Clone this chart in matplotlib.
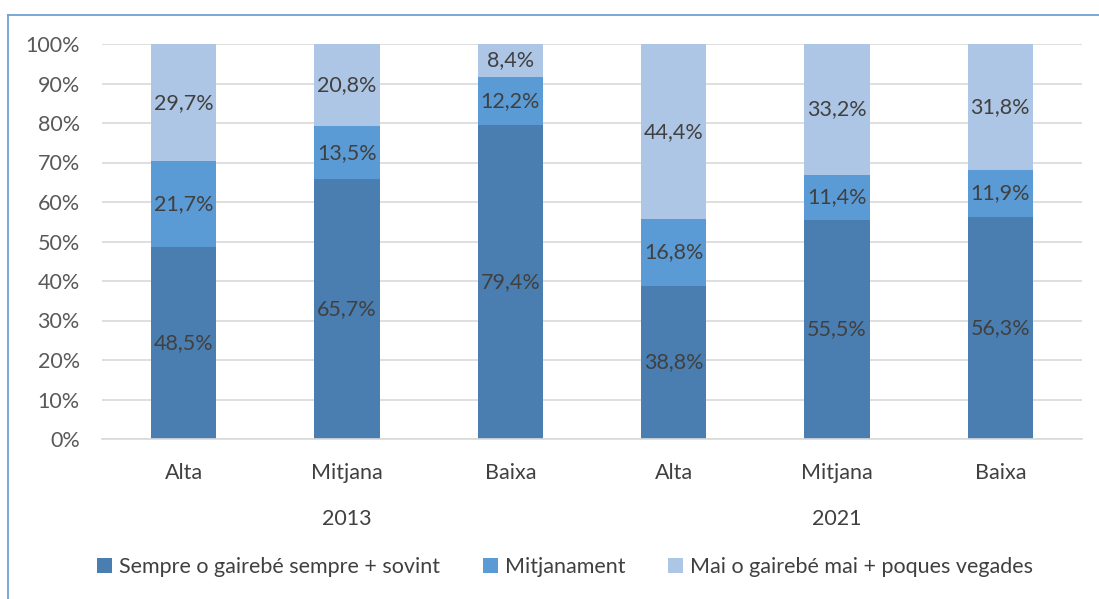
import numpy as np
import matplotlib.pyplot as plt
from matplotlib.lines import Line2D

categories = ['Alta', 'Mitjana', 'Baixa', 'Alta', 'Mitjana', 'Baixa']
years = ['2013', '2021']
sempre = [48.5, 65.7, 79.4, 38.8, 55.5, 56.3]
mitjanament = [21.7, 13.5, 12.2, 16.8, 11.4, 11.9]
mai = [29.7, 20.8, 8.4, 44.4, 33.2, 31.8]
series_names = ['Sempre o gairebé sempre + sovint', 'Mitjanament',
                'Mai o gairebé mai + poques vegades']
colors = ['#4a7eb1', '#5b9bd5', '#adc6e5']

plt.rcParams['font.family'] = ['Lato', 'DejaVu Sans']
fs = 15.5

fig = plt.figure(figsize=(10.99, 5.99), dpi=100)
W, H = 1099, 599
ax = fig.add_axes([102 / W, 1 - 439 / H, 980 / W, 395 / H])

x = np.arange(len(categories))
series = [sempre, mitjanament, mai]
tot = np.array([s + m + a for s, m, a in zip(*series)])
bottom = np.zeros(len(categories))
for vals, c, name in zip(series, colors, series_names):
    v = np.array(vals) / tot * 100
    ax.bar(x, v, 0.4, bottom=bottom, color=c, label=name, zorder=2)
    for xi, b, h, lab in zip(x, bottom, v, vals):
        ax.text(xi, b + h / 2, f'{lab:.1f}%'.replace('.', ','), ha='center',
                va='center', fontsize=fs, color='#404040', zorder=3)
    bottom += v

ax.set_xlim(-0.5, len(categories) - 0.5)
ax.set_ylim(0, 100)
ax.set_yticks(np.arange(0, 101, 10))
ax.set_yticklabels([f'{t}%' for t in range(0, 101, 10)], fontsize=fs, color='#595959')
ax.yaxis.grid(True, color='#d9d9d9', lw=1.2, zorder=0)
ax.tick_params(axis='y', length=0, pad=16)
ax.set_xticks(x)
ax.set_xticklabels(categories, fontsize=fs, color='#404040')
ax.tick_params(axis='x', length=0, pad=17)
for s in ['top', 'right', 'left']:
    ax.spines[s].set_visible(False)
ax.spines['bottom'].set_color('#d9d9d9')
ax.spines['bottom'].set_linewidth(1.2)

for i, yr in enumerate(years):
    ax.text(1 + 3 * i, -0.203, yr, transform=ax.get_xaxis_transform(), ha='center',
            va='center', fontsize=fs, color='#404040')

ax.legend(loc='center', bbox_to_anchor=(565 / W, (H - 567) / H), bbox_transform=fig.transFigure,
          ncol=3, frameon=False, fontsize=fs, handlelength=0.7, handleheight=0.7,
          handletextpad=0.3, columnspacing=2.0, labelcolor='#404040')

fig.add_artist(Line2D([8 / W, 1], [1 - 15 / H, 1 - 15 / H], color='#6f9fd3', lw=1.3))
fig.add_artist(Line2D([8 / W, 8 / W], [0, 1 - 15 / H], color='#6f9fd3', lw=1.3))

fig.savefig('out.png', dpi=100)
